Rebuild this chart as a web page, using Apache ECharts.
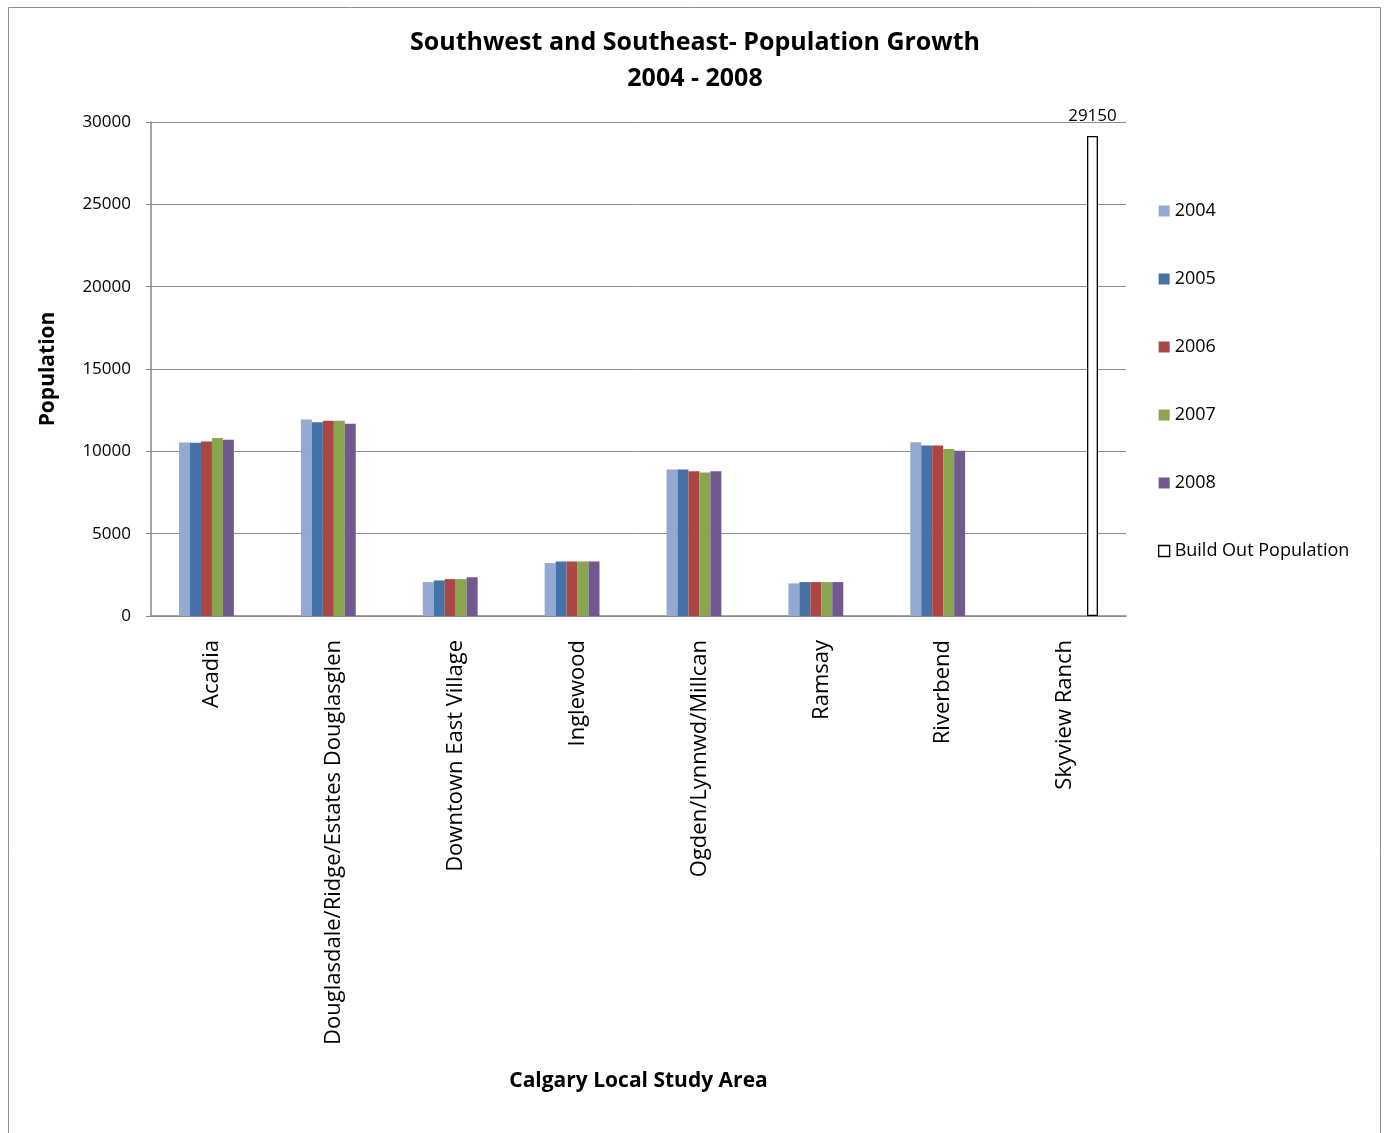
<!DOCTYPE html>
<html>
<head>
<meta charset="utf-8">
<script src="https://cdn.jsdelivr.net/npm/echarts@6/dist/echarts.min.js"></script>
<style>
  html, body { margin: 0; padding: 0; background: #fff; }
  #chart { width: 1385px; height: 1133px; }
</style>
</head>
<body>
<div id="chart"></div>
<script>
// Study areas along the category axis
const areas = ['Acadia', 'Douglasdale/Ridge/Estates Douglasglen', 'Downtown East Village',
  'Inglewood', 'Ogden/Lynnwd/Millcan', 'Ramsay', 'Riverbend', 'Skyview Ranch'];

// Yearly population per study area
const pop2004 = [10530, 11940, 2060, 3210, 8890, 1980, 10550, null];
const pop2005 = [10520, 11760, 2160, 3310, 8890, 2060, 10350, null];
const pop2006 = [10600, 11860, 2240, 3310, 8790, 2060, 10350, null];
const pop2007 = [10810, 11860, 2240, 3310, 8710, 2060, 10140, null];
const pop2008 = [10710, 11680, 2350, 3310, 8790, 2060, 10040, null];
const buildOut = [null, null, null, null, null, null, null, 29150];

const yTicks = { min: 0, max: 30000, interval: 5000 };

const font = 'Open Sans, Noto Sans, sans-serif';
const colors = ['#94A9D1', '#4572A7', '#AA4643', '#89A54E', '#71588F'];
const years = ['2004', '2005', '2006', '2007', '2008'];
const yearData = [pop2004, pop2005, pop2006, pop2007, pop2008];

const series = years.map((y, i) => ({
  name: y,
  type: 'bar',
  data: yearData[i],
  barGap: '0%',
  barCategoryGap: '46%',
  itemStyle: { color: colors[i] }
}));
series.push({
  name: 'Build Out Population',
  type: 'bar',
  data: buildOut,
  barGap: '0%',
  barCategoryGap: '46%',
  itemStyle: { color: '#ffffff', borderColor: '#000000', borderWidth: 1.3 },
  label: {
    show: true, position: 'top', distance: 11,
    color: '#000', fontFamily: font, fontSize: 17
  }
});

const chart = echarts.init(document.getElementById('chart'), null, { renderer: 'canvas' });
chart.setOption({
  animation: false,
  backgroundColor: '#ffffff',
  title: {
    text: 'Southwest and Southeast- Population Growth\n2004 - 2008',
    left: 690, top: 20, textAlign: 'center',
    textStyle: { fontFamily: font, fontWeight: 'bold', fontSize: 25, lineHeight: 36, color: '#000' }
  },
  graphic: [{
    type: 'rect', left: 6, top: 5,
    shape: { width: 1372, height: 1140 },
    style: { fill: 'none', stroke: '#8c8c8c', lineWidth: 1 },
    silent: true
  }],
  legend: {
    orient: 'vertical',
    left: 1153, top: 197,
    itemGap: 50,
    itemWidth: 11, itemHeight: 11,
    icon: 'rect',
    textStyle: { fontFamily: font, fontSize: 18, color: '#000' },
    data: years.map(y => ({ name: y })).concat([{
      name: 'Build Out Population',
      itemStyle: { color: '#fff', borderColor: '#000', borderWidth: 1.3 }
    }])
  },
  grid: { left: 151, right: 259, top: 122, bottom: 517 },
  xAxis: {
    type: 'category',
    data: areas,
    name: 'Calgary Local Study Area',
    nameLocation: 'middle',
    nameGap: 455,
    nameTextStyle: { fontFamily: font, fontWeight: 'bold', fontSize: 21, color: '#000' },
    axisLine: { lineStyle: { color: '#868686', width: 1.5 } },
    axisTick: { show: false },
    axisLabel: {
      rotate: 90, margin: 24, interval: 0,
      fontFamily: font, fontSize: 22, color: '#000', padding: [0, 0, 0, 0]
    }
  },
  yAxis: {
    type: 'value',
    min: yTicks.min, max: yTicks.max, interval: yTicks.interval,
    name: 'Population',
    nameLocation: 'middle',
    nameGap: 92,
    nameTextStyle: { fontFamily: font, fontWeight: 'bold', fontSize: 21, color: '#000' },
    axisLine: { show: true, lineStyle: { color: '#868686', width: 1.5 } },
    axisTick: { show: true, length: 5, lineStyle: { color: '#868686' } },
    splitLine: { lineStyle: { color: '#8c8c8c', width: 1 } },
    axisLabel: {
      margin: 20, fontFamily: font, fontSize: 17, color: '#000',
      formatter: v => String(v)
    }
  },
  series: series
});
</script>
</body>
</html>
